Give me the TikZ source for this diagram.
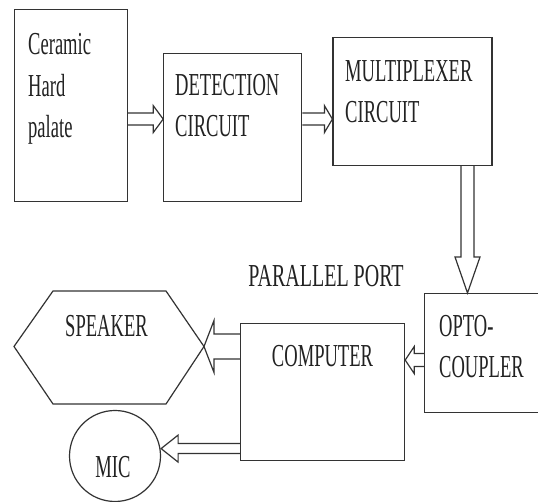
\documentclass[tikz,border=0pt]{standalone}
\usepackage{fontspec}
\setmainfont{Liberation Serif}[FakeStretch=0.58]
\newfontfamily\portfont{Liberation Serif}[FakeStretch=0.625]
\usepackage{tikz}
\usetikzlibrary{positioning,calc}
\definecolor{lnk}{HTML}{333333}
\definecolor{tnk}{HTML}{222222}
\tikzset{
  box/.style     ={draw=lnk, line width=1.2pt, rectangle, inner sep=0pt},
  txt/.style     ={font=\fontsize{32}{41.5}\selectfont, text=tnk, inner sep=0pt, align=left},
  outline/.style ={draw=lnk, line width=1.2pt, line join=miter},
  dblarrow/.style n args={3}{outline, to path={
    let \p1=(\tikztostart), \p2=(\tikztotarget), \p3=($(\p2)!#3!(\p1)$) in
    ($(\p1)!#1!90:(\p2)$) -- ($(\p3)!#1!90:(\p2)$) -- ($(\p3)!#2!90:(\p2)$) -- (\p2)
    -- ($(\p3)!#2!-90:(\p2)$) -- ($(\p3)!#1!-90:(\p2)$) -- ($(\p1)!#1!-90:(\p2)$)}},
}
\begin{document}
\begin{tikzpicture}[x=1pt,y=1pt]
  \useasboundingbox (0,0) rectangle (538,502);
  \fill[white] (0,0) rectangle (538,502);
  \clip (0,0) rectangle (538,502);

  \node[box, minimum width=113pt, minimum height=192pt, anchor=north west] (cer) at (14,493) {};
  \node[box, minimum width=138pt, minimum height=148pt, right=35pt of cer.south east, anchor=south west] (det) {};
  \node[box, minimum width=159pt, minimum height=128pt, right=30pt of det.north east, anchor=north west, yshift=16pt] (mux) {};
  \node[box, minimum width=140pt, minimum height=119pt, anchor=north west] (opto) at (424,209) {};
  \node[box, minimum width=164pt, minimum height=137pt, anchor=north west] (comp) at (240,179) {};
  \node[box, circle, minimum size=91pt] (mic) at (115,46) {};
  \coordinate (spktip) at (204,155.5);
  \draw[outline] (14,155.5) -- (53,211) -- (166,211) -- (spktip) -- (166,98) -- (53,98) -- cycle;

  % base anchor of a multi-line node sits on its last line
  \node[txt, anchor=base west] (certxt) at (28,364) {Ceramic\\Hard\\palate};
  \node[txt, anchor=base west] (dettxt) at (175,365) {DETECTION\\CIRCUIT};
  \node[txt, anchor=base west] (muxtxt) at (345,379) {MULTIPLEXER\\CIRCUIT};
  \node[txt, anchor=base, font=\portfont\fontsize{32}{41.5}\selectfont] (porttxt) at (326,215) {PARALLEL PORT};
  \node[txt, anchor=base] (spktxt) at (106.5,165) {SPEAKER};
  \node[txt, anchor=base] (comptxt) at (322.5,135) {COMPUTER};
  \node[txt, anchor=base west] (optotxt) at (439,124) {OPTO-\\COUPLER};
  \node[txt, anchor=base] (mictxt) at (113,24) {MIC};

  % block arrows: shaft half width, head half width, head length
  \coordinate (a1) at ([yshift=-13.5pt]cer.east);
  \draw[dblarrow={6pt}{13.5pt}{10pt}] (a1) to (a1 -| det.west);
  \draw[dblarrow={6pt}{13.5pt}{8pt}] (a1 -| det.east) to (a1 -| mux.west);
  \coordinate (a3) at ([xshift=55pt]mux.south);
  \draw[dblarrow={6.5pt}{12.5pt}{36pt}] (a3) to (a3 |- opto.north);
  \coordinate (a4) at ([yshift=-7pt]opto.west);
  \draw[dblarrow={6.5pt}{13.5pt}{9pt}] (a4) to (a4 -| comp.east);
  \draw[dblarrow={12.5pt}{26pt}{10pt}] (spktip -| comp.west) to (spktip);
  \coordinate (a6) at ([yshift=-56.5pt]comp.west);
  \draw[dblarrow={5pt}{13.5pt}{17pt}] (a6) to (a6 -| mic.east);
\end{tikzpicture}
\end{document}
